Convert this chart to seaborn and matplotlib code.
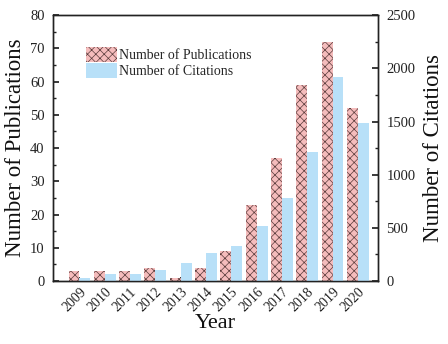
import matplotlib
matplotlib.use("Agg")
import matplotlib.pyplot as plt
import seaborn as sns
import pandas as pd
import numpy as np
from matplotlib.patches import Patch
from matplotlib.ticker import MultipleLocator, AutoMinorLocator

years = ["2009", "2010", "2011", "2012", "2013", "2014", "2015", "2016", "2017", "2018", "2019", "2020"]
publications = [3, 3, 3, 4, 1, 4, 9, 23, 37, 59, 72, 52]
citations = [25, 63, 63, 107, 170, 263, 333, 514, 777, 1215, 1917, 1485]
series_names = ["Number of Publications", "Number of Citations"]

sns.set_theme(style="ticks")
plt.rcParams["font.family"] = ["Liberation Serif", "DejaVu Serif"]
plt.rcParams["hatch.color"] = "#5a3c3c"
plt.rcParams["hatch.linewidth"] = 0.5

pub_color = "#f5bcbc"
cit_color = "#b8e0f8"
hatch_col = "#5a3c3c"

df = pd.DataFrame({
    "Year": years * 2,
    "series": [series_names[0]] * len(years) + [series_names[1]] * len(years),
    "pub": publications + [np.nan] * len(years),
    "cit": [np.nan] * len(years) + citations,
})

fig = plt.figure(figsize=(4.48, 3.44), dpi=100)
ax1 = fig.add_axes([0.118, 0.183, 0.726, 0.773])
ax2 = ax1.twinx()

sns.barplot(data=df, x="Year", y="pub", hue="series", hue_order=series_names,
            palette=[pub_color, cit_color], width=0.86, ax=ax1, legend=False,
            errorbar=None, saturation=1, linewidth=0, edgecolor="none")
sns.barplot(data=df, x="Year", y="cit", hue="series", hue_order=series_names,
            palette=[pub_color, cit_color], width=0.86, ax=ax2, legend=False,
            errorbar=None, saturation=1, linewidth=0, edgecolor="none")

for p in ax1.patches:
    p.set_hatch("xxxx")
    p.set_edgecolor(hatch_col)
    p.set_linewidth(0)

ax1.set_ylim(0, 80)
ax2.set_ylim(0, 2500)
ax1.set_xlim(-1.05, 11.8)
ax1.yaxis.set_major_locator(MultipleLocator(10))
ax1.yaxis.set_minor_locator(AutoMinorLocator(2))
ax2.yaxis.set_major_locator(MultipleLocator(500))
ax2.yaxis.set_minor_locator(AutoMinorLocator(2))

for ax in (ax1, ax2):
    for s in ax.spines.values():
        s.set_visible(True)
        s.set_color("#222222")
        s.set_linewidth(1.0)

for ax in (ax1, ax2):
    ax.tick_params(axis="y", which="both", direction="in", labelsize=10.5, colors="#222222", pad=6)
    ax.tick_params(axis="y", which="major", length=4)
    ax.tick_params(axis="y", which="minor", length=2)
ax1.tick_params(axis="x", which="major", direction="in", length=3, labelsize=10, colors="#222222", pad=3)
ax1.set_xticks(range(len(years)))
ax1.set_xticklabels(years, rotation=45, ha="right", rotation_mode="anchor")

ax1.set_xlabel("Year", fontsize=16, color="#111111", labelpad=0)
ax1.set_ylabel("Number of Publications", fontsize=16.5, color="#111111", labelpad=3)
ax2.set_ylabel("Number of Citations", fontsize=16.5, color="#111111", labelpad=5)

handles = [Patch(facecolor=pub_color, hatch="xxxx", edgecolor=hatch_col, linewidth=0, label=series_names[0]),
           Patch(facecolor=cit_color, edgecolor="none", label=series_names[1])]
ax1.legend(handles=handles, loc="upper left", bbox_to_anchor=(0.085, 0.90), frameon=False,
           fontsize=10, handlelength=2.2, handleheight=1.2, handletextpad=0.2, labelspacing=0.1,
           borderaxespad=0)

fig.savefig("out.png", dpi=100)
